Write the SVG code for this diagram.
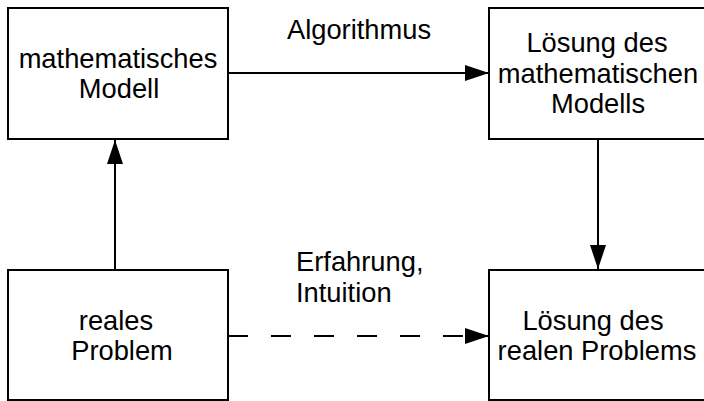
<svg xmlns="http://www.w3.org/2000/svg" width="704" height="401" viewBox="0 0 704 401">
  <style>
    .box { fill: #ffffff; stroke: #000000; stroke-width: 2; }
    .lbl { font-family: "Liberation Sans", Arial, sans-serif; font-size: 27.3px; fill: #000000; }
    .c { text-anchor: middle; }
    .edge { stroke: #000000; stroke-width: 2; fill: none; }
    .dash { stroke-dasharray: 20 23; }
  </style>
  <defs>
    <marker id="arrow" viewBox="0 0 24 16" refX="24" refY="8" markerWidth="24" markerHeight="16" markerUnits="userSpaceOnUse" orient="auto">
      <path d="M0,0 L24,8 L0,16 Z" fill="#000000"/>
    </marker>
  </defs>

  <rect width="704" height="401" fill="#ffffff"/>

  <g id="connectors">
    <line class="edge" x1="115" y1="270" x2="115" y2="140" marker-end="url(#arrow)"/>
    <line class="edge" x1="228" y1="73" x2="489" y2="73" marker-end="url(#arrow)"/>
    <line class="edge" x1="598" y1="139" x2="598" y2="269" marker-end="url(#arrow)"/>
    <line class="edge dash" x1="228" y1="336" x2="489" y2="336" marker-end="url(#arrow)"/>
    <text class="lbl c" x="359" y="39">Algorithmus</text>
    <text class="lbl" x="296" y="271">Erfahrung,</text>
    <text class="lbl" x="296" y="302">Intuition</text>
  </g>

  <g id="math-model">
    <rect class="box" x="8" y="8" width="220" height="131"/>
    <text class="lbl c" x="118" y="68">mathematisches</text>
    <text class="lbl c" x="119" y="98">Modell</text>
  </g>

  <g id="math-solution">
    <rect class="box" x="489" y="8" width="220" height="131"/>
    <text class="lbl c" x="597" y="52">Lösung des</text>
    <text class="lbl c" x="598" y="83">mathematischen</text>
    <text class="lbl c" x="598" y="113">Modells</text>
  </g>

  <g id="real-problem">
    <rect class="box" x="8" y="270" width="220" height="130"/>
    <text class="lbl c" x="116" y="330">reales</text>
    <text class="lbl c" x="122" y="360">Problem</text>
  </g>

  <g id="real-solution">
    <rect class="box" x="489" y="270" width="220" height="130"/>
    <text class="lbl c" x="593" y="330">Lösung des</text>
    <text class="lbl c" x="597" y="360">realen Problems</text>
  </g>
</svg>
